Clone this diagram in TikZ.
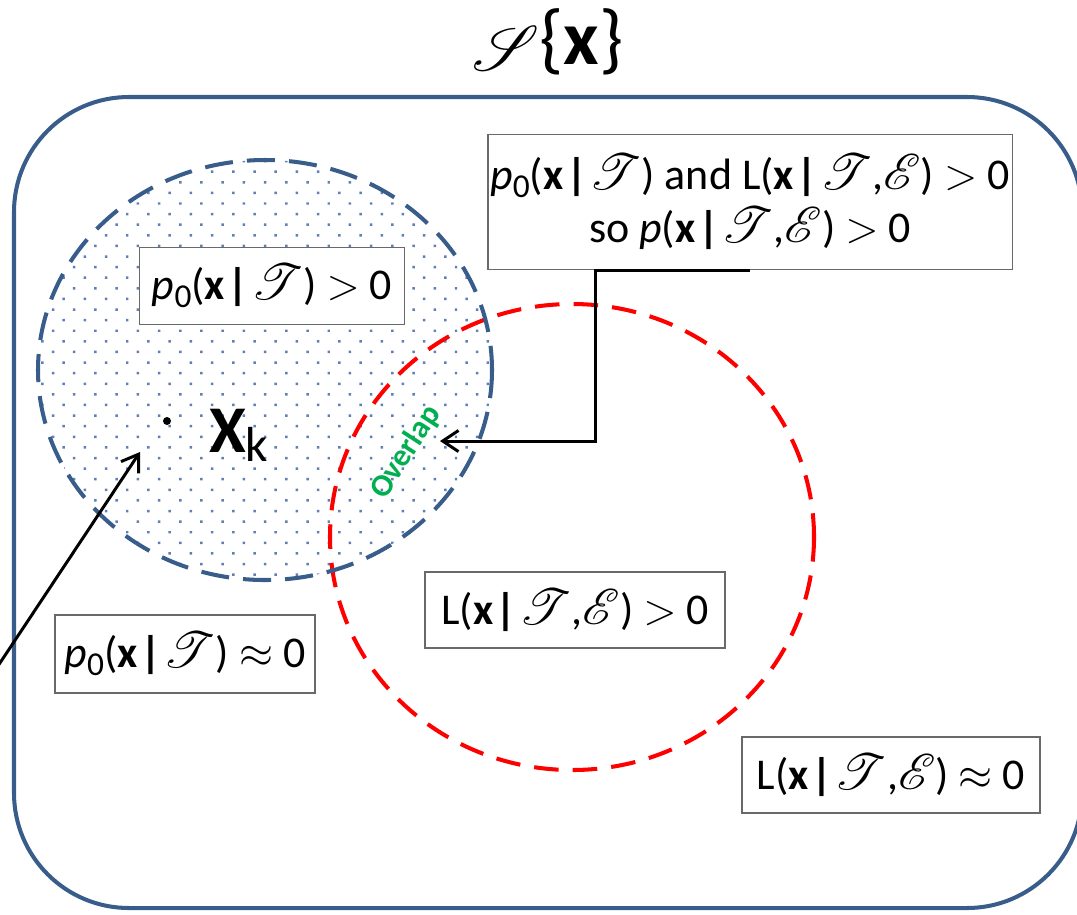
\documentclass[tikz,border=0pt]{standalone}
\usepackage{fontspec}
\setmainfont{Carlito}
\usepackage{mathrsfs}
\usepackage{graphicx}
\usepackage{tikz}
\usetikzlibrary{arrows.meta,positioning,patterns.meta}
\definecolor{setblue}{RGB}{56,93,138}
\definecolor{dotblue}{RGB}{95,128,180}
\definecolor{likered}{RGB}{255,0,0}
\definecolor{boxgray}{RGB}{105,105,105}
\definecolor{overgreen}{RGB}{0,176,80}
\newcommand{\scrT}{\scalebox{1.15}{\ensuremath{\mathscr{T}}}}
\newcommand{\scrE}{\scalebox{1.15}{\ensuremath{\mathscr{E}}}}
\newcommand{\pzero}{\textit{p}\raisebox{-0.35ex}{\fontsize{19}{20}\selectfont 0}}
\newcommand{\bx}{\textbf{x}}
\newcommand{\givenbar}{\hspace{0.06em}\textbf{|}\hspace{0.06em}}

\begin{document}
\begin{tikzpicture}[
  x=0.02cm, y=-0.02cm,
  labelbox/.style={draw=boxgray, line width=1.1pt, fill=white, inner sep=0pt,
                   align=center, font=\fontsize{25}{30}\selectfont},
  setframe/.style={draw=setblue, line width=2.3pt, rounded corners=2.3cm},
  priorline/.style={draw=setblue, line width=2.3pt, dash pattern=on 16pt off 8pt},
  likeline/.style={draw=likered, line width=2.3pt, dash pattern=on 14pt off 8pt},
  arr/.style={-{Straight Barb[length=9pt,width=12pt]}, line width=1.7pt}
]
\useasboundingbox (0,0) rectangle (1077,914);

%% Sample space
\draw[setframe] (14,97) rectangle (1082,908);
\node[font=\fontsize{44}{46}\selectfont] (title) at (548,42)
  {\raisebox{-0.15ex}{\scalebox{1.45}{$\mathscr{S}$}}\{\bx\}};

%% Prior region (dotted) and likelihood region
\path[pattern={Dots[distance=0.3cm, radius=1pt, angle=45]}, pattern color=dotblue]
  (265,370) ellipse [x radius=227, y radius=210];
\draw[likeline] (572,537) ellipse [x radius=242, y radius=233];
\draw[priorline] (265,370) ellipse [x radius=227, y radius=210];

%% Labels
\node[labelbox, minimum width=5.3cm, minimum height=1.54cm] (prior) at (272,286)
  {\pzero(\bx\givenbar\scrT) $>$ 0};
\node[labelbox, minimum width=10.5cm, minimum height=2.7cm] (post) at (750,202)
  {\pzero(\bx\givenbar\scrT) and L(\bx\givenbar\scrT,\scrE) $>$ 0\\
   so \textit{p}(\bx\givenbar\scrT,\scrE) $>$ 0};
\node[labelbox, minimum width=5.2cm, minimum height=1.56cm] (priorzero) at (185,654)
  {\pzero(\bx\givenbar\scrT) $\approx$ 0};
\node[labelbox, minimum width=6.0cm, minimum height=1.52cm] (like) at (575,610)
  {L(\bx\givenbar\scrT,\scrE) $>$ 0};
\node[labelbox, minimum width=5.96cm, minimum height=1.52cm] (likezero) at (891,775)
  {L(\bx\givenbar\scrT,\scrE) $\approx$ 0};

%% Reference point
\node[circle, fill, inner sep=0pt, minimum size=0.16cm] (xdot) at (167,421) {};
\node[font=\fontsize{38}{40}\selectfont\bfseries, anchor=base west] (xk) at (203,452)
  {X\raisebox{-0.3ex}{\fontsize{28}{30}\selectfont\mdseries k}};
\node[font=\fontsize{18}{19}\selectfont\bfseries, text=overgreen, rotate=57] (ovl) at (406,452) {Overlap};

%% Arrows
\coordinate (farleft) at (-20,693);
\coordinate (xtip) at (140,452);
\coordinate (ovltip) at (440,441);
\draw[arr] (farleft) -- (xtip);
\draw[arr] (post.south) -- ++(-155,0) |- (ovltip);

\end{tikzpicture}
\end{document}
